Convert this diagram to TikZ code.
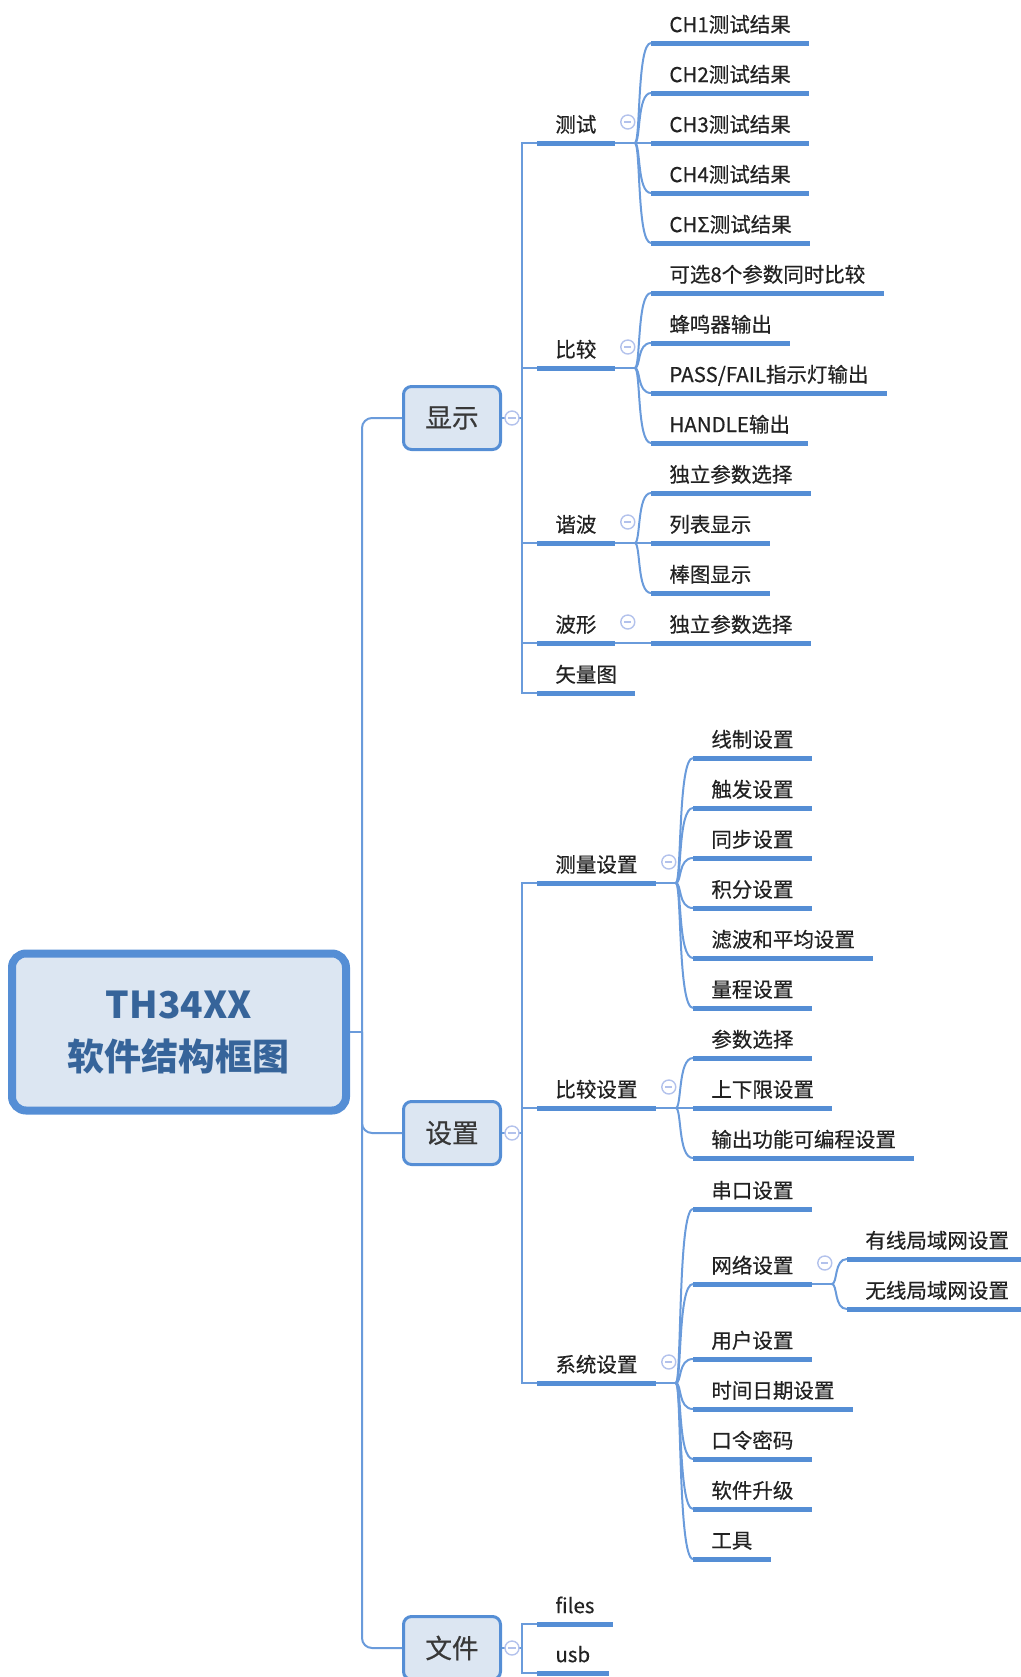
\documentclass[tikz,border=0pt]{standalone}
\usepackage{fontspec}
\setmainfont{Noto Sans CJK SC}
\newfontfamily\leaffont{Noto Sans CJK SC}[FakeBold=0.5]
\usepackage{xcolor}
\usepackage{tikz}
\usetikzlibrary{calc,positioning}

\definecolor{linkblue}{HTML}{6A9BDB}
\definecolor{barblue}{HTML}{558ED5}
\definecolor{boxfill}{HTML}{DCE6F2}
\definecolor{titleblue}{HTML}{36649A}
\definecolor{labelgray}{HTML}{222222}
\definecolor{knobblue}{HTML}{B3C2EC}

\tikzset{
  bar/.style={draw=barblue, line width=2.5pt},
  link/.style={draw=linkblue, line width=1pt},
  topic/.style={anchor=south west, inner xsep=9pt, inner ysep=0pt,
    text height=8pt, text depth=5.25pt, text=labelgray,
    font=\leaffont\fontsize{10.25pt}{12pt}\selectfont,
    append after command={(\tikzlastnode.south west) edge[bar] (\tikzlastnode.south east)}},
  mainbox/.style={draw=barblue, fill=boxfill, line width=1.5pt, rounded corners=4pt,
    minimum width=48.5pt, minimum height=31.5pt, text=labelgray!90!white,
    font=\leaffont\fontsize{13.3pt}{16pt}\selectfont},
  rootbox/.style={draw=barblue, fill=boxfill, line width=4pt, rounded corners=7pt,
    minimum width=167pt, minimum height=78.5pt, align=center, text=titleblue,
    font=\bfseries\fontsize{18.5pt}{26pt}\selectfont},
  knob/.style={circle, draw=knobblue, fill=white, line width=0.7pt, minimum size=7pt, inner sep=0pt,
    path picture={\draw[knobblue, line width=0.7pt]
      ([xshift=-1.8pt]path picture bounding box.center) -- ([xshift=1.8pt]path picture bounding box.center);}},
}
% curved twig from a branch point to a subtopic
\newcommand\twig[2]{\draw[link] (#1) .. controls ($(#1)+(6,0)$) and ($(#1 |- #2.south west)+(2,0)$) .. (#2.south west);}

\begin{document}
\begin{tikzpicture}[x=0.5pt,y=-0.5pt]
\useasboundingbox (0,0) rectangle (1021,1677);

% central topic and main branches
\node[rootbox] (root) at (179,1032) {TH34XX\\软件结构框图};
\node[mainbox] (xianshi) at (452,418) {显示};
\node[mainbox] (shezhi) at (452,1133) {设置};
\node[mainbox] (wenjian) at (452,1648) {文件};
\coordinate (trunk) at (362,1032);
\draw[link] (root.east) -- (trunk);
\draw[link, rounded corners=5pt] (xianshi.west) -| (trunk) |- (wenjian.west);
\draw[link, rounded corners=5pt] (trunk) |- (shezhi.west);

% 显示
\node[topic] (ceshi) at (537,143) {测试};
\node[topic] (bijiao) at (537,368) {比较};
\node[topic] (xiebo) at (537,543) {谐波};
\node[topic] (boxing) at (537,643) {波形};
\node[topic] (shiliang) at (537,693) {矢量图};
\coordinate (xsbus) at (522,418);
\draw[link] (xianshi.east) -- (xsbus);
\draw[link] (ceshi.south west) -| (xsbus) |- (shiliang.south west);
\foreach \n in {bijiao,xiebo,boxing}
  \draw[link] (xsbus |- \n.south west) -- (\n.south west);

\foreach \t/\y [count=\i] in {CH1测试结果/43,CH2测试结果/93,CH3测试结果/143,CH4测试结果/193,CHΣ测试结果/243}
  \node[topic] (ce\i) at (651,\y) {\t};
\coordinate (ceB) at ($(ceshi.south east)+(20,0)$);
\draw[link] (ceshi.south east) -- (ceB);
\foreach \i in {1,...,5} \twig{ceB}{ce\i};

\foreach \t/\y [count=\i] in {可选8个参数同时比较/293,蜂鸣器输出/343,{PASS/FAIL指示灯输出}/393,HANDLE输出/443}
  \node[topic] (bj\i) at (651,\y) {\t};
\coordinate (bjB) at ($(bijiao.south east)+(20,0)$);
\draw[link] (bijiao.south east) -- (bjB);
\foreach \i in {1,...,4} \twig{bjB}{bj\i};

\foreach \t/\y [count=\i] in {独立参数选择/493,列表显示/543,棒图显示/593}
  \node[topic] (xb\i) at (651,\y) {\t};
\coordinate (xbB) at ($(xiebo.south east)+(20,0)$);
\draw[link] (xiebo.south east) -- (xbB);
\foreach \i in {1,...,3} \twig{xbB}{xb\i};

\node[topic] (bx1) at (651,643) {独立参数选择};
\draw[link] (boxing.south east) -- (bx1.south west);

% 设置
\node[topic] (celiang) at (537,883) {测量设置};
\node[topic] (bjsz) at (537,1108) {比较设置};
\node[topic] (xitong) at (537,1383) {系统设置};
\coordinate (szbus) at (522,1133);
\draw[link] (shezhi.east) -- (szbus);
\draw[link] (celiang.south west) -| (szbus) |- (xitong.south west);
\draw[link] (szbus |- bjsz.south west) -- (bjsz.south west);

\foreach \t/\y [count=\i] in {线制设置/758,触发设置/808,同步设置/858,积分设置/908,滤波和平均设置/958,量程设置/1008}
  \node[topic] (cl\i) at (693,\y) {\t};
\coordinate (clB) at ($(celiang.south east)+(20,0)$);
\draw[link] (celiang.south east) -- (clB);
\foreach \i in {1,...,6} \twig{clB}{cl\i};

\foreach \t/\y [count=\i] in {参数选择/1058,上下限设置/1108,输出功能可编程设置/1158}
  \node[topic] (bs\i) at (693,\y) {\t};
\coordinate (bsB) at ($(bjsz.south east)+(20,0)$);
\draw[link] (bjsz.south east) -- (bsB);
\foreach \i in {1,...,3} \twig{bsB}{bs\i};

\foreach \t/\y [count=\i] in {串口设置/1209,网络设置/1284,用户设置/1359,时间日期设置/1409,口令密码/1459,软件升级/1509,工具/1559}
  \node[topic] (xt\i) at (693,\y) {\t};
\coordinate (xtB) at ($(xitong.south east)+(20,0)$);
\draw[link] (xitong.south east) -- (xtB);
\foreach \i in {1,...,7} \twig{xtB}{xt\i};

\foreach \t/\y [count=\i] in {有线局域网设置/1259,无线局域网设置/1309}
  \node[topic] (wl\i) at (847,\y) {\t};
\coordinate (wlB) at ($(xt2.south east)+(20,0)$);
\draw[link] (xt2.south east) -- (wlB);
\foreach \i in {1,2} \twig{wlB}{wl\i};

% 文件
\node[topic] (files) at (537,1624) {files};
\node[topic] (usb) at (537,1673) {usb};
\coordinate (wjbus) at (522,1648);
\draw[link] (wenjian.east) -- (wjbus);
\draw[link] (files.south west) -| (wjbus) |- (usb.south west);

% collapse knobs
\foreach \n in {xianshi,shezhi,wenjian}
  \node[knob] (k\n) at ($(\n.east)+(10,0)$) {};
\foreach \n in {ceshi,bijiao,xiebo,boxing,celiang,bjsz,xitong,xt2}
  \node[knob] (k\n) at ($(\n.south east)+(13,-21)$) {};
\end{tikzpicture}
\end{document}
